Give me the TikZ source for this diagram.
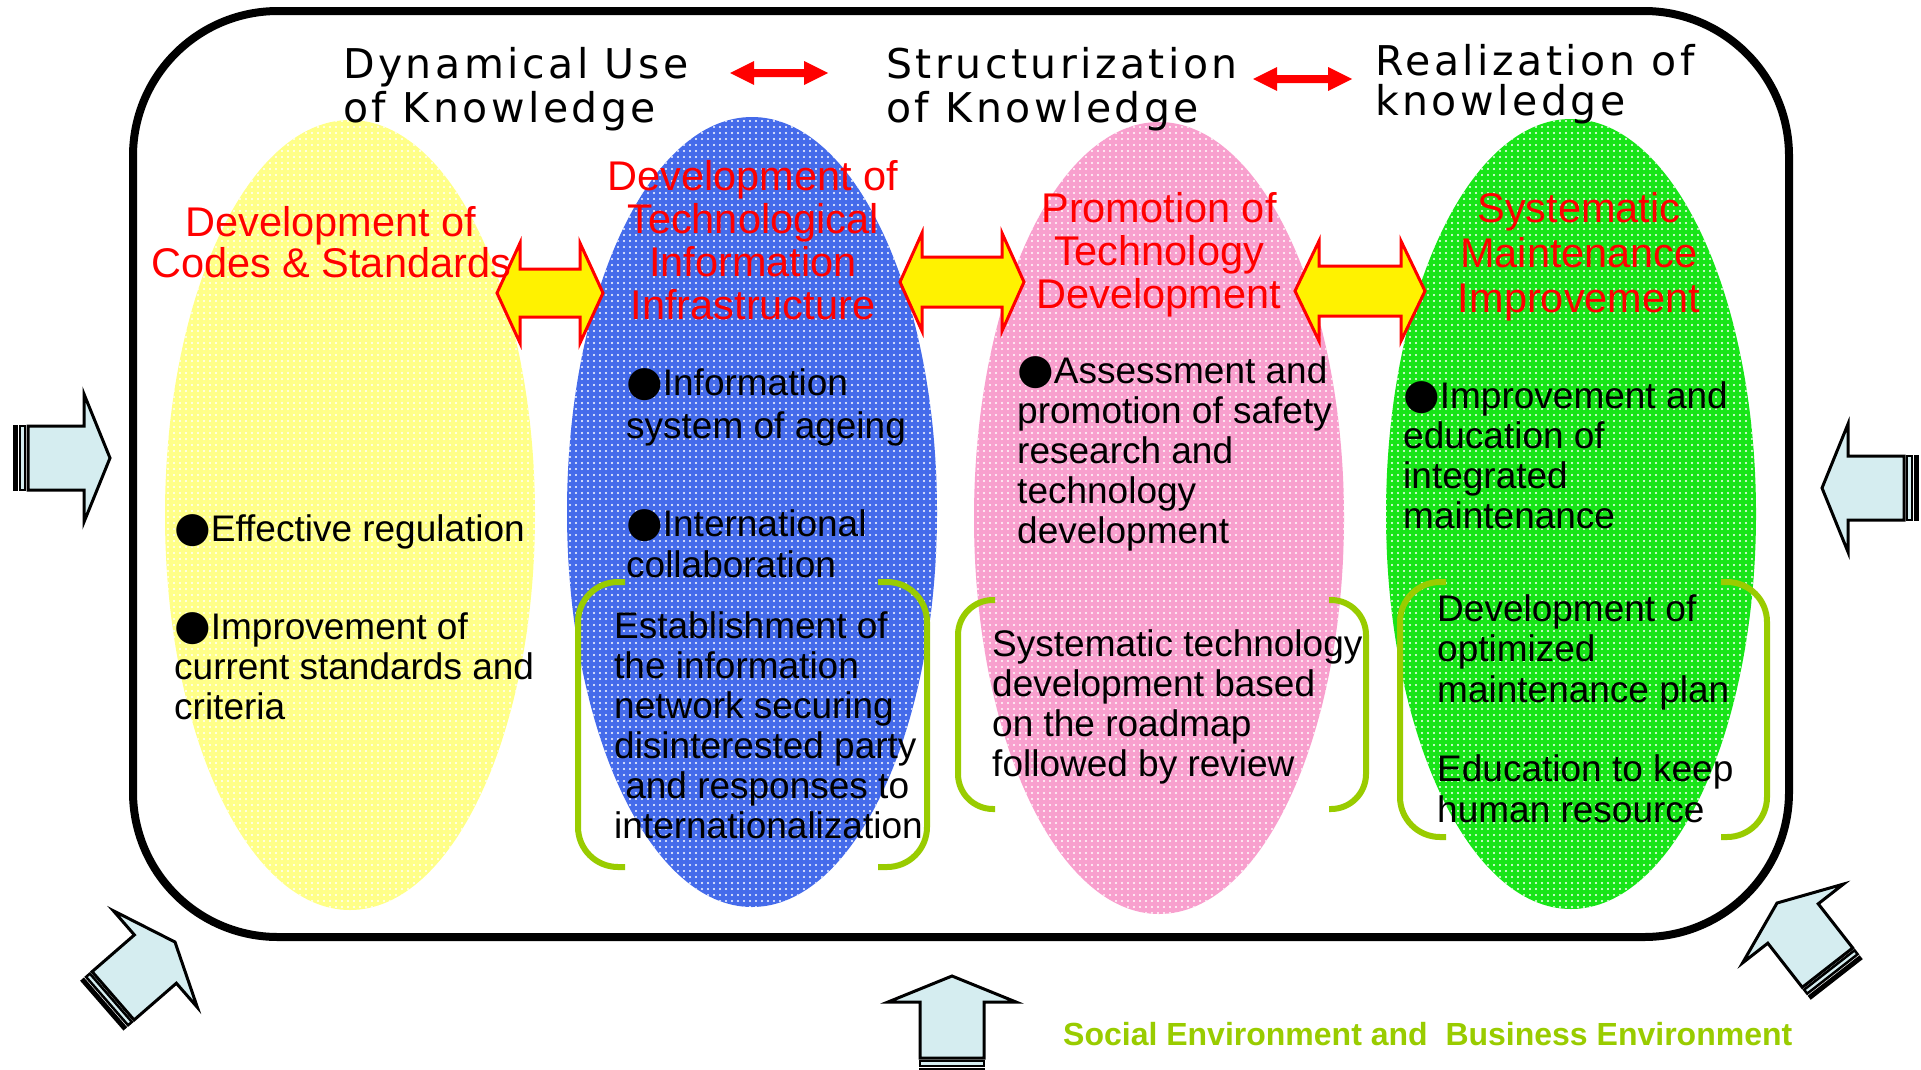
\documentclass[tikz,border=0pt]{standalone}
\usepackage{fontspec}
\usetikzlibrary{patterns.meta}
\setmainfont{Liberation Sans}
\newfontfamily\dvs{DejaVu Sans}
\newfontfamily\dvsT[LetterSpace=8.5]{DejaVu Sans}
\definecolor{cyel}{HTML}{FFFF88}
\definecolor{cblue}{HTML}{456BEA}
\definecolor{cpink}{HTML}{F8A0CE}
\definecolor{cgreen}{HTML}{18E418}
\definecolor{lime}{HTML}{99CC00}
\definecolor{envfill}{HTML}{D5EDF0}
\newcommand\blt{{\dvs\fontsize{42}{40}\selectfont ●}}
\newcommand\dblarrow[6]{%
  \draw[dbl] (#1,#3) -- ({#1+#4},{#3-#5}) -- ({#1+#4},{#3-#6}) -- ({#2-#4},{#3-#6}) -- ({#2-#4},{#3-#5}) -- (#2,#3) -- ({#2-#4},{#3+#5}) -- ({#2-#4},{#3+#6}) -- ({#1+#4},{#3+#6}) -- ({#1+#4},{#3+#5}) -- cycle;}
\newcommand\redarrow[3]{%
  \fill[red] (#1,#3) -- ({#1+24},{#3-12}) -- ({#1+24},{#3-4}) -- ({#2-24},{#3-4}) -- ({#2-24},{#3-12}) -- (#2,#3) -- ({#2-24},{#3+12}) -- ({#2-24},{#3+4}) -- ({#1+24},{#3+4}) -- ({#1+24},{#3+12}) -- cycle;}
\tikzset{
  dbl/.style={fill=yellow, draw=red, line width=3, line join=miter},
  brk/.style={draw=lime, line width=6, rounded corners=40},
  hd/.style={inner sep=0, align=left, anchor=base west, font=\dvsT\fontsize{41}{44}\selectfont},
  rt/.style={inner sep=0, align=center, anchor=base, text=red},
  bt/.style={inner sep=0, align=left, anchor=base west},
  dotty/.style={pattern={Dots[distance=6pt, radius=1.1pt]}, pattern color=white},
  envarrow/.pic={
    \draw[fill=envfill, line width=3, line join=miter] (0,0) -- (-26,64) -- (-26,32) -- (-82,32) -- (-82,-32) -- (-26,-32) -- (-26,-64) -- cycle;
    \draw[fill=envfill, line width=2.5] (-85,-32) rectangle (-90,32);
    \fill[black] (-92,-33) rectangle (-97,33);
  }
}
\begin{document}
\begin{tikzpicture}[x=1pt,y=-1pt]
\useasboundingbox[fill=white] (0,0) rectangle (1921,1069);
% ellipses
\fill[cyel] (350,515) ellipse [x radius=185, y radius=395];
\fill[cblue] (752,512) ellipse [x radius=185, y radius=395];
\fill[cpink] (1159,518) ellipse [x radius=185, y radius=396];
\fill[cgreen] (1571,514) ellipse [x radius=185, y radius=395];
\fill[dotty] (350,515) ellipse [x radius=185, y radius=395];
\fill[dotty] (752,512) ellipse [x radius=185, y radius=395];
\fill[dotty] (1159,518) ellipse [x radius=185, y radius=396];
\fill[dotty] (1571,514) ellipse [x radius=185, y radius=395];
% frame
\draw[line width=8, rounded corners=145] (133,11) rectangle (1789,937);
% double arrows
\dblarrow{497}{603}{293}{23}{50}{24}
\dblarrow{900}{1024}{282}{22}{49}{25}
\dblarrow{1295}{1425}{291}{24}{50}{25}
% top arrows
\redarrow{730}{828}{73}
\redarrow{1253}{1352}{79}
% headings (anchor = baseline of last line)
\node[hd] (h1) at (343,122) {Dynamical Use\\of Knowledge};
\node[hd] (h2) at (886,122) {Structurization\\of Knowledge};
\node[hd, font=\dvsT\fontsize{41}{40}\selectfont] (h3) at (1375,115) {Realization of\\knowledge};
% red titles
\node[rt, font=\fontsize{41.5}{41}\selectfont] (t1) at (331,277) {Development of\\Codes \& Standards};
\node[rt, font=\fontsize{41.5}{43}\selectfont] (t2) at (753,319) {Development of\\Technological\\Information\\Infrastructure};
\node[rt, font=\fontsize{41.5}{43}\selectfont] (t3) at (1159,308) {Promotion of\\Technology\\Development};
\node[rt, font=\fontsize{41.5}{45}\selectfont] (t4) at (1579,312) {Systematic\\Maintenance\\Improvement};
% brackets
\draw[brk] (625,582) -- (578,582) -- (578,867) -- (625,867);
\draw[brk] (878,582) -- (927,582) -- (927,867) -- (878,867);
\draw[brk, rounded corners=35] (995,600) -- (958,600) -- (958,809) -- (995,809);
\draw[brk, rounded corners=35] (1329,600) -- (1366,600) -- (1366,809) -- (1329,809);
\draw[brk] (1446,582) -- (1400,582) -- (1400,837) -- (1446,837);
\draw[brk] (1721,582) -- (1767,582) -- (1767,837) -- (1721,837);
% body text
\node[bt, font=\fontsize{37}{40}\selectfont] (b1) at (174,541) {\blt Effective regulation};
\node[bt, font=\fontsize{37}{40}\selectfont] (b2) at (174,719) {\blt Improvement of\\current standards and\\criteria};
\node[bt, font=\fontsize{37}{43}\selectfont] (b3) at (626,438) {\blt Information\\system of ageing};
\node[bt, font=\fontsize{37}{41}\selectfont] (b4) at (626,577) {\blt International\\collaboration};
\node[bt, font=\fontsize{37}{40}\selectfont] (b5) at (614,838) {Establishment of\\the information\\network securing\\disinterested party\\\hspace*{0.3em}and responses to\\internationalization};
\node[bt, font=\fontsize{37}{40}\selectfont] (b6) at (1017,543) {\blt Assessment and\\promotion of safety\\research and\\technology\\development};
\node[bt, font=\fontsize{37}{40}\selectfont] (b7) at (992,776) {Systematic technology\\development based\\on the roadmap\\followed by review};
\node[bt, font=\fontsize{37}{40}\selectfont] (b8) at (1403,528) {\blt Improvement and\\education of\\integrated\\maintenance};
\node[bt, font=\fontsize{37}{40.5}\selectfont] (b9) at (1437,702) {Development of\\optimized\\maintenance plan};
\node[bt, font=\fontsize{37}{41}\selectfont] (b10) at (1437,822) {Education to keep\\human resource};
% environment arrows
\pic[rotate=0] at (110,458) {envarrow};
\pic[rotate=180] at (1822,488) {envarrow};
\pic[rotate=90] at (952,976) {envarrow};
\pic[rotate=41] at (175,942) {envarrow};
\pic[rotate=128] at (1777,903) {envarrow};
\node[bt, text=lime, font=\bfseries\fontsize{32}{36}\selectfont] (env) at (1063,1045) {Social Environment and\ \ Business Environment};
\end{tikzpicture}
\end{document}
